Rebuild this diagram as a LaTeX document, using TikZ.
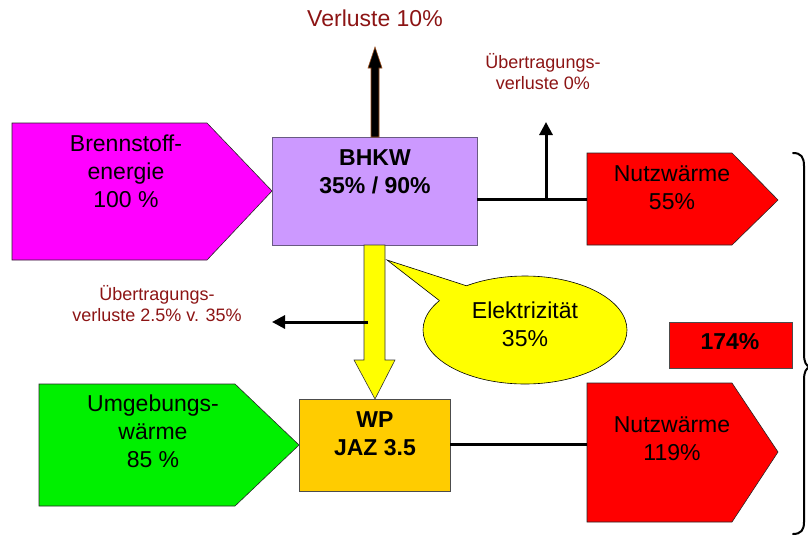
\documentclass[tikz,border=0pt]{standalone}
\usepackage{fontspec}
\setmainfont{Liberation Sans}
\usetikzlibrary{arrows.meta}
\definecolor{lossred}{RGB}{140,20,20}
\definecolor{bhkwfill}{RGB}{204,153,255}
\definecolor{bhkwline}{RGB}{105,90,130}
\definecolor{wpfill}{RGB}{255,204,0}
\definecolor{envgreen}{RGB}{0,240,0}
\definecolor{fuelmag}{RGB}{255,0,255}
\definecolor{heatred}{RGB}{255,0,0}
\definecolor{elyellow}{RGB}{255,255,0}
\definecolor{arrowrim}{RGB}{160,80,30}
\begin{document}
\begin{tikzpicture}[x=1pt,y=-1pt,
  txt/.style={inner sep=0pt, anchor=north, align=center, font=\fontsize{23}{28}\selectfont},
  boldtxt/.style={inner sep=0pt, anchor=north, align=center, font=\fontsize{23}{28}\selectfont\bfseries},
  small/.style={inner sep=0pt, anchor=north, align=center, text=lossred, font=\fontsize{18}{21.5}\selectfont},
  pent/.style={draw=black!85, line width=0.6pt},
  box/.style={draw, line width=0.8pt, inner sep=0pt},
  conn/.style={line width=3pt},
  thinarrow/.style={line width=3pt, -{Triangle[length=13pt,width=13pt]}},
]
\useasboundingbox (0,0) rectangle (808,536);

% input pentagons
\path[pent, fill=fuelmag] (12,123) -- (207,123) -- (272,191) coordinate (bstip) -- (207,260) -- (12,260) -- cycle;
\path[pent, fill=envgreen] (39,384) -- (235,384) -- (299,445) coordinate (ugtip) -- (235,506) -- (39,506) -- cycle;

% output pentagons
\path[pent, fill=heatred] (587,153) coordinate (nw1in) -- (732,153) -- (778,200) -- (732,245) -- (587,245) -- cycle;
\path[pent, fill=heatred] (587,383) -- (732,383) -- (778,452) -- (732,522) -- (587,522) -- cycle;
\coordinate (nw1left) at (587,199);
\coordinate (nw2left) at (587,444);

% boxes
\node[box, draw=bhkwline, fill=bhkwfill, minimum width=205pt, minimum height=108pt] (bhkw) at (374.5,191) {};
\node[box, draw=black!70, fill=wpfill, minimum width=151pt, minimum height=92pt] (wp) at (374.5,445) {};
\node[box, draw=black!70, fill=heatred, minimum width=123pt, minimum height=46pt] (sum) at (730.5,345) {};

% Verluste arrow (black, thick)
\path[fill=black, draw=arrowrim, line width=0.6pt]
  (371,137) -- (371,68) -- (368,68) -- (375,47) coordinate (losstip) -- (382,68) -- (379,68) -- (379,137) -- cycle;

% yellow electricity arrow
\path[fill=elyellow, draw=black!80, line width=0.6pt]
  (364,245) -- (385,245) -- (385,360) -- (395,360) -- (375,399) -- (354,360) -- (364,360) -- cycle;

% connectors
\draw[conn] (bhkw.east |- nw1left) -- (nw1left);
\coordinate (up0) at (546,199);
\coordinate (up1) at (546,122);
\draw[thinarrow] (up0) -- (up1);
\draw[conn] (wp.east |- nw2left) -- (nw2left);
\coordinate (el0) at (368,322);
\coordinate (el1) at (272,322);
\draw[thinarrow] (el0) -- (el1);

% callout
\draw[fill=elyellow, line width=0.6pt] (525,330) ellipse [x radius=102pt, y radius=54pt];
\coordinate (cotip) at (387,260);
\coordinate (cob1) at (466.5,285.8);
\coordinate (cob2) at (439.4,300.6);
\fill[elyellow] (cotip) -- (cob1) -- (472.6,290.2) -- (448.0,303.5) -- (cob2) -- cycle;
\draw[line width=0.6pt, line join=miter] (cob1) -- (cotip) -- (cob2);

% brace
\draw[line width=2pt, line cap=round]
  (793,153) .. controls (801,153) and (804,157) .. (804,166) -- (804,354)
  .. controls (804,362) and (806,366) .. (810,367)
  .. controls (806,368) and (804,372) .. (804,380) -- (804,522)
  .. controls (804,530) and (801,534) .. (793,534);

% texts
\node[small] (lossttl) at (375,10) {\fontsize{23}{28}\selectfont Verluste 10\%};
\node[small] (loss0) at (543,53) {Übertragungs-\\verluste 0\%};
\node[small] (loss25) at (157,285) {Übertragungs-\\verluste 2.5\% v. 35\%};
\node[txt] (bstxt) at (126,135) {Brennstoff-\\energie\\100 \%};
\node[boldtxt] (bhkwtxt) at (375,149) {BHKW\\35\% / 90\%};
\node[txt] (nw1txt) at (672,165) {Nutzwärme\\55\%};
\node[txt] (eltxt) at (525,302) {Elektrizität\\35\%};
\node[boldtxt] (sumtxt) at (730,333) {174\%};
\node[txt] (ugtxt) at (153,395) {Umgebungs-\\wärme\\85 \%};
\node[boldtxt] (wptxt) at (375,411) {WP\\JAZ 3.5};
\node[txt] (nw2txt) at (672,416) {Nutzwärme\\119\%};
\end{tikzpicture}
\end{document}
